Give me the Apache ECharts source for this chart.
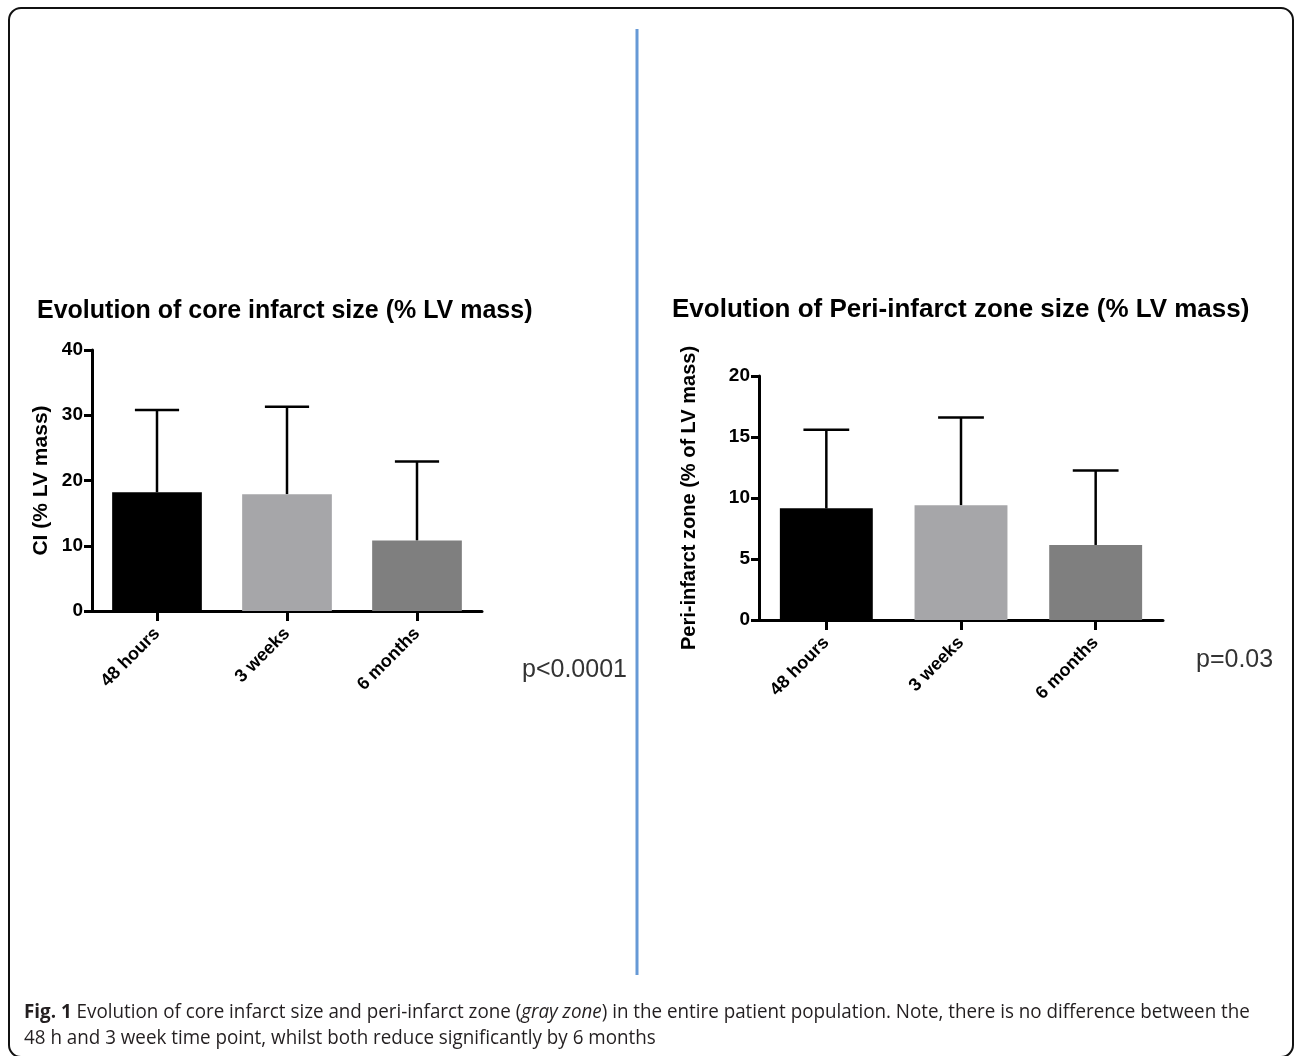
<!DOCTYPE html>
<html><head><meta charset="utf-8">
<script src="https://cdn.jsdelivr.net/npm/echarts@6/dist/echarts.min.js"></script>
<style>html,body{margin:0;padding:0;background:#fff}#c{width:1295px;height:1056px}</style>
</head><body><div id="c"></div>
<script>
const categories = ['48 hours', '3 weeks', '6 months'];
const coreMean = [18.2, 17.9, 10.8];
const coreUpper = [30.8, 31.3, 22.9];
const periMean = [9.15, 9.4, 6.15];
const periUpper = [15.6, 16.6, 12.25];
const barColors = ['#000000', '#a6a6a9', '#7f7f7f'];
const titles = ['Evolution of core infarct size (% LV mass)', 'Evolution of Peri-infarct zone size (% LV mass)'];
const yNames = ['CI (% LV mass)', 'Peri-infarct zone (% of LV mass)'];
const pValues = ['p<0.0001', 'p=0.03'];

const FONT = '"Liberation Sans", Arial, Helvetica, sans-serif';
const CAPFONT = '"Open Sans", sans-serif';

function errRender(params, api) {
  const x = api.value(0), lo = api.value(1), hi = api.value(2);
  const pLo = api.coord([x, lo]);
  const pHi = api.coord([x, hi]);
  const half = api.size([1, 0])[0] * 0.17;
  const st = { stroke: '#000', lineWidth: 2.5 };
  return {
    type: 'group', children: [
      { type: 'line', shape: { x1: pLo[0], y1: pLo[1], x2: pHi[0], y2: pHi[1] }, style: st },
      { type: 'line', shape: { x1: pHi[0] - half, y1: pHi[1], x2: pHi[0] + half, y2: pHi[1] }, style: st }
    ]
  };
}

function xAxisDef(gi) {
  return {
    type: 'category', gridIndex: gi, data: categories,
    axisLine: { show: true, lineStyle: { color: '#000', width: 3 } },
    axisTick: { show: true, alignWithLabel: true, length: 10, lineStyle: { color: '#000', width: 3 } },
    axisLabel: { rotate: 45, margin: 20, color: '#000', fontWeight: 'bold', fontSize: 18, fontFamily: FONT },
    splitLine: { show: false }
  };
}
function yAxisDef(gi, max, interval, name, gap, nameSize) {
  return {
    type: 'value', gridIndex: gi, min: 0, max: max, interval: interval,
    name: name, nameLocation: 'middle', nameRotate: 90, nameGap: gap,
    nameTextStyle: { color: '#000', fontWeight: 'bold', fontSize: nameSize, fontFamily: FONT },
    axisLine: { show: true, lineStyle: { color: '#000', width: 3 } },
    axisTick: { show: true, length: 8, lineStyle: { color: '#000', width: 3 } },
    axisLabel: { margin: 9, color: '#000', fontWeight: 'bold', fontSize: 19, fontFamily: FONT },
    splitLine: { show: false }
  };
}
function barData(vals) {
  return vals.map((v, i) => ({ value: v, itemStyle: { color: barColors[i] } }));
}
function errData(mean, upper) {
  return categories.map((c, i) => [i, mean[i], upper[i]]);
}

const chart = echarts.init(document.getElementById('c'), null, { renderer: 'canvas' });
chart.setOption({
  backgroundColor: '#ffffff',
  animation: false,
  title: [
    { text: titles[0], left: 37, top: 299, padding: 0, textStyle: { color: '#000', fontWeight: 'bold', fontSize: 25, fontFamily: FONT } },
    { text: titles[1], left: 672, top: 297, padding: 0, textStyle: { color: '#000', fontWeight: 'bold', fontSize: 26, fontFamily: FONT } }
  ],
  grid: [
    { left: 92, top: 350, width: 390, height: 261 },
    { left: 759, top: 376, width: 404, height: 244 }
  ],
  xAxis: [xAxisDef(0), xAxisDef(1)],
  yAxis: [yAxisDef(0, 40, 10, yNames[0], 40, 21), yAxisDef(1, 20, 5, yNames[1], 60, 20)],
  series: [
    { type: 'bar', xAxisIndex: 0, yAxisIndex: 0, barWidth: '69%', data: barData(coreMean), z: 3 },
    { type: 'custom', xAxisIndex: 0, yAxisIndex: 0, renderItem: errRender, data: errData(coreMean, coreUpper), z: 2 },
    { type: 'bar', xAxisIndex: 1, yAxisIndex: 1, barWidth: '69%', data: barData(periMean), z: 3 },
    { type: 'custom', xAxisIndex: 1, yAxisIndex: 1, renderItem: errRender, data: errData(periMean, periUpper), z: 2 }
  ],
  graphic: [
    { type: 'rect', shape: { x: 9, y: 8, width: 1284, height: 1049, r: 12 }, style: { fill: 'none', stroke: '#111', lineWidth: 2 }, z: 0 },
    { type: 'line', shape: { x1: 637, y1: 29, x2: 637, y2: 975 }, style: { stroke: '#6699d6', lineWidth: 3 } },
    { type: 'text', x: 522, y: 670, style: { text: pValues[0], fill: '#333', font: '25px ' + FONT, textVerticalAlign: 'middle' } },
    { type: 'text', x: 1196, y: 660, style: { text: pValues[1], fill: '#333', font: '25px ' + FONT, textVerticalAlign: 'middle' } },
    { type: 'text', x: 24, y: 1012, scaleX: 0.94, style: {
        text: '{b|Fig. 1} Evolution of core infarct size and peri-infarct zone ({i|gray zone}) in the entire patient population. Note, there is no difference between the',
        fill: '#231f20', fontSize: 20, fontFamily: CAPFONT, textVerticalAlign: 'middle',
        rich: { b: { fontWeight: 'bold', fontSize: 20, fontFamily: CAPFONT, fill: '#231f20' }, i: { fontStyle: 'italic', fontSize: 20, fontFamily: CAPFONT, fill: '#231f20' } }
      } },
    { type: 'text', x: 24, y: 1038, scaleX: 0.94, style: {
        text: '48 h and 3 week time point, whilst both reduce significantly by 6 months',
        fill: '#231f20', fontSize: 20, fontFamily: CAPFONT, textVerticalAlign: 'middle'
      } }
  ]
});
</script>
</body></html>
